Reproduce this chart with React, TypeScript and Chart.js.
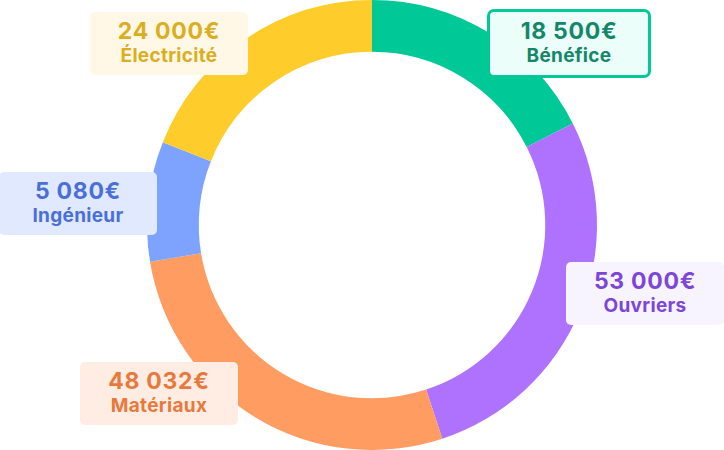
import React, { useEffect, useRef } from "react";
import { Chart, registerables } from "chart.js";

Chart.register(...registerables);

// ---- data ----
const categories = ["Bénéfice", "Ouvriers", "Matériaux", "Ingénieur", "Électricité"];
const amounts = [18500, 53000, 48032, 5080, 24000];
// share of the ring each slice occupies (degrees)
const shares = [63.2, 98.6, 98.8, 31.0, 68.4];

// ---- styles ----
const sliceColors = ["#00C896", "#AE72FF", "#FF9C62", "#7EA3FF", "#FFCD2B"];
const boxFills = ["#EBFEF9", "#F8F4FF", "#FFEDE3", "#E0E9FF", "#FFF8E6"];
const textColors = ["#14866A", "#7C47D8", "#E8793C", "#4A70D8", "#DBAE1F"];
const boxBorders = ["3px solid #00C896", "none", "none", "none", "none"];
// layout: top-left of each label box (px, page coordinates)
const boxPos = [
  { left: 490, top: 12 },
  { left: 566, top: 262 },
  { left: 80, top: 362 },
  { left: -1, top: 172 },
  { left: 90, top: 12 },
];

const fmt = (v: number) => v.toString().replace(/\B(?=(\d{3})+(?!\d))/g, " ") + "€";

export default function App() {
  const ref = useRef<HTMLCanvasElement | null>(null);

  useEffect(() => {
    if (!ref.current) return;
    const chart = new Chart(ref.current, {
      type: "doughnut",
      data: {
        labels: categories,
        datasets: [
          {
            data: shares,
            backgroundColor: sliceColors,
            borderWidth: 0,
          },
        ],
      },
      options: {
        animation: false,
        responsive: true,
        maintainAspectRatio: false,
        cutout: "77%",
        layout: { padding: { left: 20, right: 0, top: 0, bottom: 0 } },
        plugins: {
          legend: { display: false },
          tooltip: { enabled: false },
        },
        events: [],
      },
    });
    return () => chart.destroy();
  }, []);

  return (
    <div
      style={{
        position: "absolute",
        left: 0,
        top: 0,
        width: 724,
        height: 450,
        overflow: "hidden",
        background: "#ffffff",
        fontFamily: "Inter, 'Noto Sans', sans-serif",
      }}
    >
      <canvas ref={ref} style={{ position: "absolute", left: 0, top: 0 }} />
      {categories.map((c, i) => (
        <div
          key={c}
          style={{
            position: "absolute",
            left: boxPos[i].left - (boxBorders[i] !== "none" ? 3 : 0),
            top: boxPos[i].top - (boxBorders[i] !== "none" ? 3 : 0),
            width: 158,
            height: 63,
            boxSizing: "content-box",
            background: boxFills[i],
            border: boxBorders[i],
            borderRadius: boxBorders[i] !== "none" ? 7 : 5,
            textAlign: "center",
            color: textColors[i],
            fontWeight: 700,
          }}
        >
          <div style={{ fontSize: 23, lineHeight: "26px", marginTop: 6, letterSpacing: "0.7px" }}>
            {fmt(amounts[i])}
          </div>
          <div style={{ fontSize: 19, lineHeight: "24px", letterSpacing: "0.3px" }}>{c}</div>
        </div>
      ))}
    </div>
  );
}
